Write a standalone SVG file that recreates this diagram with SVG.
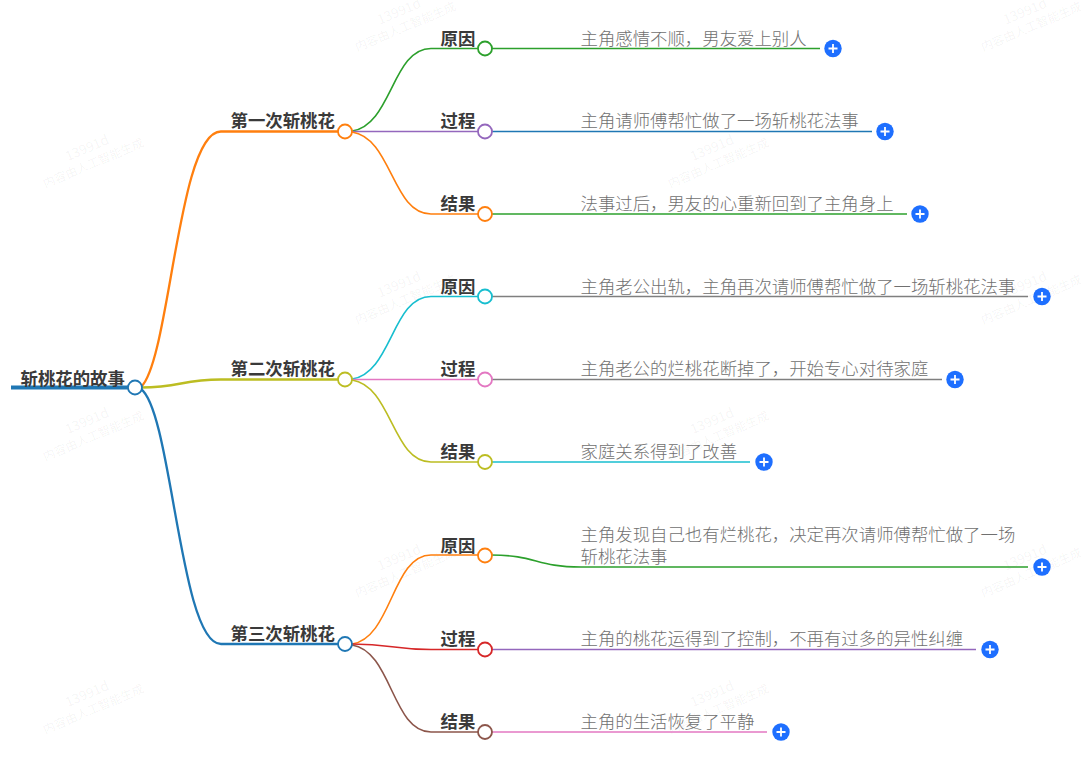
<svg xmlns="http://www.w3.org/2000/svg" width="1081" height="760" viewBox="0 0 1081 760">
<style>
text{font-family:"Noto Sans CJK SC","Liberation Sans",sans-serif;font-size:17.4px}
.b{font-weight:700;fill:#3a3a3a}
.t{fill:#707070;font-weight:300}
.w{font-size:12px;fill:#000;fill-opacity:.05;text-anchor:middle}
.w1{font-size:13.5px}
path{fill:none}
.l1{stroke-width:2.3}
.l2{stroke-width:1.6}
circle.n{fill:#fff;stroke-width:1.8}
circle.a{fill:#1e6fff}
.p{stroke:#fff;stroke-width:1.8}
</style>
<defs>
<g id="wm"><text class="w w1" y="-3">13991d</text><text class="w" y="13">内容由人工智能生成</text></g>
<g id="plus"><circle class="a" r="8.7"/><path class="p" d="M-4.5 0H4.5M0-4.5V4.5"/></g>
</defs>
<g id="watermarks">
<use href="#wm" transform="translate(402 18.5) rotate(-23)"/>
<use href="#wm" transform="translate(1028 18.5) rotate(-23)"/>
<use href="#wm" transform="translate(90 155) rotate(-23)"/>
<use href="#wm" transform="translate(715 155) rotate(-23)"/>
<use href="#wm" transform="translate(402 291.5) rotate(-23)"/>
<use href="#wm" transform="translate(1028 291.5) rotate(-23)"/>
<use href="#wm" transform="translate(90 428) rotate(-23)"/>
<use href="#wm" transform="translate(715 428) rotate(-23)"/>
<use href="#wm" transform="translate(402 564.5) rotate(-23)"/>
<use href="#wm" transform="translate(1028 564.5) rotate(-23)"/>
<use href="#wm" transform="translate(90 701) rotate(-23)"/>
<use href="#wm" transform="translate(715 701) rotate(-23)"/>
</g>
<g id="connectors">
<path d="M11 387.5H135" stroke="#1f77b4" stroke-width="4"/>
<path class="l1" stroke="#ff7f0e" d="M141 387C170 360 178 131 221 131.5H338"/>
<path class="l1" stroke="#bcbd22" d="M141 387.5C181 387.5 181 379.5 221 379.5H338"/>
<path class="l1" stroke="#1f77b4" d="M141 389C172 412 180 644 221 644H338"/>
<path class="l2" stroke="#2ca02c" d="M352 131C392 125 392 48.5 431 48.5H478"/>
<path class="l2" stroke="#9467bd" d="M352 131.5H478"/>
<path class="l2" stroke="#ff7f0e" d="M352 132C392 138 392 214 431 214H478"/>
<path class="l2" stroke="#17becf" d="M352 379C392 373 392 296.5 431 296.5H478"/>
<path class="l2" stroke="#e377c2" d="M352 379.5H478"/>
<path class="l2" stroke="#bcbd22" d="M352 380C392 386 392 462 431 462H478"/>
<path class="l2" stroke="#ff7f0e" d="M352 644C392 638 392 555 431 555H478"/>
<path class="l2" stroke="#d62728" d="M352 644C392 644 392 649.5 431 649.5H478"/>
<path class="l2" stroke="#8c564b" d="M352 645C392 651 392 732 431 732H478"/>
<path class="l2" stroke="#2ca02c" d="M491 48.5H820"/>
<path class="l2" stroke="#1f77b4" d="M491 131.5H872"/>
<path class="l2" stroke="#2ca02c" d="M491 214H907"/>
<path class="l2" stroke="#7f7f7f" d="M491 296.5H1028"/>
<path class="l2" stroke="#7f7f7f" d="M491 379.5H942"/>
<path class="l2" stroke="#17becf" d="M491 462H750"/>
<path class="l2" stroke="#2ca02c" d="M491 555C536 555 536 567 581 567H1028"/>
<path class="l2" stroke="#9467bd" d="M491 649.5H976"/>
<path class="l2" stroke="#e377c2" d="M491 732H767"/>
</g>
<g id="root"><text class="b" x="20.5" y="384.8">斩桃花的故事</text><circle class="n" cx="135" cy="387.5" r="7" stroke="#1f77b4"/></g>
<g id="n1"><text class="b" x="230.5" y="126.8">第一次斩桃花</text><circle class="n" cx="345" cy="131.5" r="7" stroke="#ff7f0e"/></g>
<g id="n2"><text class="b" x="230.5" y="374.8">第二次斩桃花</text><circle class="n" cx="345" cy="379.5" r="7" stroke="#bcbd22"/></g>
<g id="n3"><text class="b" x="230.5" y="639.8">第三次斩桃花</text><circle class="n" cx="345" cy="644" r="7" stroke="#1f77b4"/></g>
<g id="n1a"><text class="b" x="440.5" y="44.8">原因</text><circle class="n" cx="485" cy="48.5" r="7" stroke="#2ca02c"/></g>
<g id="n1b"><text class="b" x="440.5" y="126.8">过程</text><circle class="n" cx="485" cy="131.5" r="7" stroke="#9467bd"/></g>
<g id="n1c"><text class="b" x="440.5" y="209.8">结果</text><circle class="n" cx="485" cy="214" r="7" stroke="#ff7f0e"/></g>
<g id="n2a"><text class="b" x="440.5" y="292.8">原因</text><circle class="n" cx="485" cy="296.5" r="7" stroke="#17becf"/></g>
<g id="n2b"><text class="b" x="440.5" y="374.8">过程</text><circle class="n" cx="485" cy="379.5" r="7" stroke="#e377c2"/></g>
<g id="n2c"><text class="b" x="440.5" y="457.8">结果</text><circle class="n" cx="485" cy="462" r="7" stroke="#bcbd22"/></g>
<g id="n3a"><text class="b" x="440.5" y="551.8">原因</text><circle class="n" cx="485" cy="555.5" r="7" stroke="#ff7f0e"/></g>
<g id="n3b"><text class="b" x="440.5" y="644.8">过程</text><circle class="n" cx="485" cy="649.5" r="7" stroke="#d62728"/></g>
<g id="n3c"><text class="b" x="440.5" y="727.8">结果</text><circle class="n" cx="485" cy="732" r="7" stroke="#8c564b"/></g>
<g id="leaf1"><text class="t" x="580.5" y="44.8">主角感情不顺，男友爱上别人</text><use href="#plus" x="833" y="48.5"/></g>
<g id="leaf2"><text class="t" x="580.5" y="126.8">主角请师傅帮忙做了一场斩桃花法事</text><use href="#plus" x="885" y="131.5"/></g>
<g id="leaf3"><text class="t" x="580.5" y="209.8">法事过后，男友的心重新回到了主角身上</text><use href="#plus" x="920" y="214"/></g>
<g id="leaf4"><text class="t" x="580.5" y="292.8">主角老公出轨，主角再次请师傅帮忙做了一场斩桃花法事</text><use href="#plus" x="1042" y="296.5"/></g>
<g id="leaf5"><text class="t" x="580.5" y="374.8">主角老公的烂桃花断掉了，开始专心对待家庭</text><use href="#plus" x="955" y="379.5"/></g>
<g id="leaf6"><text class="t" x="580.5" y="457.8">家庭关系得到了改善</text><use href="#plus" x="764" y="462"/></g>
<g id="leaf7"><text class="t" x="580.5" y="540.8">主角发现自己也有烂桃花，决定再次请师傅帮忙做了一场</text><text class="t" x="580.5" y="562.8">斩桃花法事</text><use href="#plus" x="1042" y="567"/></g>
<g id="leaf8"><text class="t" x="580.5" y="644.8">主角的桃花运得到了控制，不再有过多的异性纠缠</text><use href="#plus" x="990" y="649.5"/></g>
<g id="leaf9"><text class="t" x="580.5" y="727.8">主角的生活恢复了平静</text><use href="#plus" x="781" y="732"/></g>
</svg>
